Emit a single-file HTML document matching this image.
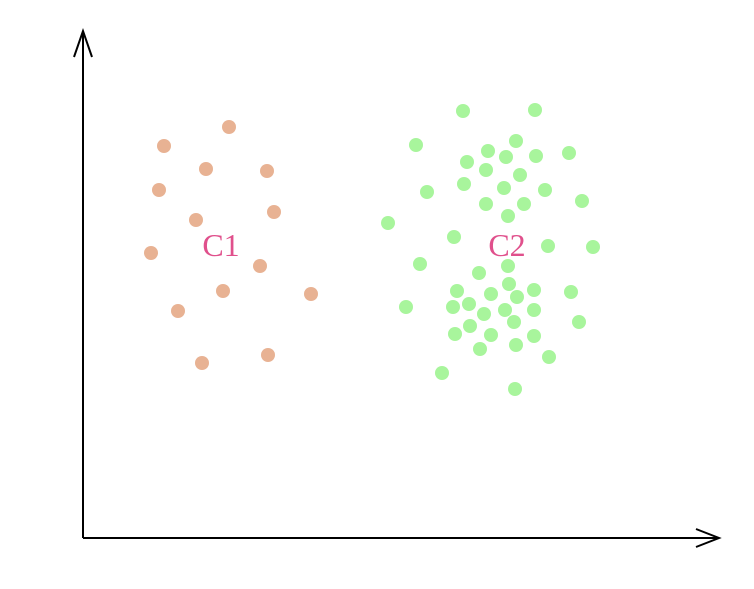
<!DOCTYPE html>
<html><head><meta charset="utf-8"><style>
html,body{margin:0;padding:0;background:#fff;}
svg{display:block;}
</style></head><body>
<svg id="chart" width="754" height="589" viewBox="0 0 754 589" xmlns="http://www.w3.org/2000/svg">
  <g id="axes" stroke="#000" stroke-width="2" fill="none">
    <line x1="83" y1="538" x2="83" y2="32"/>
    <polyline points="74,57 83,31 92,57"/>
    <line x1="83" y1="538" x2="718" y2="538"/>
    <polyline points="696,529 719,538 696,547"/>
  </g>
  <g id="points"></g>
  <text x="221" y="256" text-anchor="middle" font-family="Liberation Serif, serif" font-size="32" fill="#e0508c">C1</text>
  <text x="507" y="256" text-anchor="middle" font-family="Liberation Serif, serif" font-size="32" fill="#e0508c">C2</text>
</svg>
<script>
// Data in plot units: x = distance right of origin, y = distance above origin
const c1X = [146,81,123,184,76,191,113,68,177,140,228,95,185,119];
const c1Y = [411,392,369,367,348,326,318,285,272,247,244,227,183,175];
const c2X = [380,452,333,433,405,384,423,453,486,403,437,381,421,462,344,403,441,499,425,305,371,465,510,337,425,396,426,374,408,434,451,488,323,370,386,401,422,451,387,431,496,372,408,451,397,433,466,359,432];
const c2Y = [427,428,393,397,387,376,381,382,385,368,363,354,350,348,346,334,334,337,322,315,301,292,291,274,272,265,254,247,244,241,248,246,231,231,234,224,228,228,212,216,216,204,203,202,189,193,181,165,149];

const ox = 83, oy = 538;
function sx(v){ return ox + v; }
function sy(v){ return oy - v; }

const g = document.getElementById('points');
const NS = 'http://www.w3.org/2000/svg';
function drawSeries(xs, ys, color, name){
  for (let i = 0; i < xs.length; i++){
    const c = document.createElementNS(NS, 'circle');
    c.setAttribute('cx', sx(xs[i]));
    c.setAttribute('cy', sy(ys[i]));
    c.setAttribute('r', 7);
    c.setAttribute('fill', color);
    
    
    g.appendChild(c);
  }
}
drawSeries(c1X, c1Y, '#e8b293', 'c1-point');
drawSeries(c2X, c2Y, '#a8f59c', 'c2-point');
</script>
</body></html>
